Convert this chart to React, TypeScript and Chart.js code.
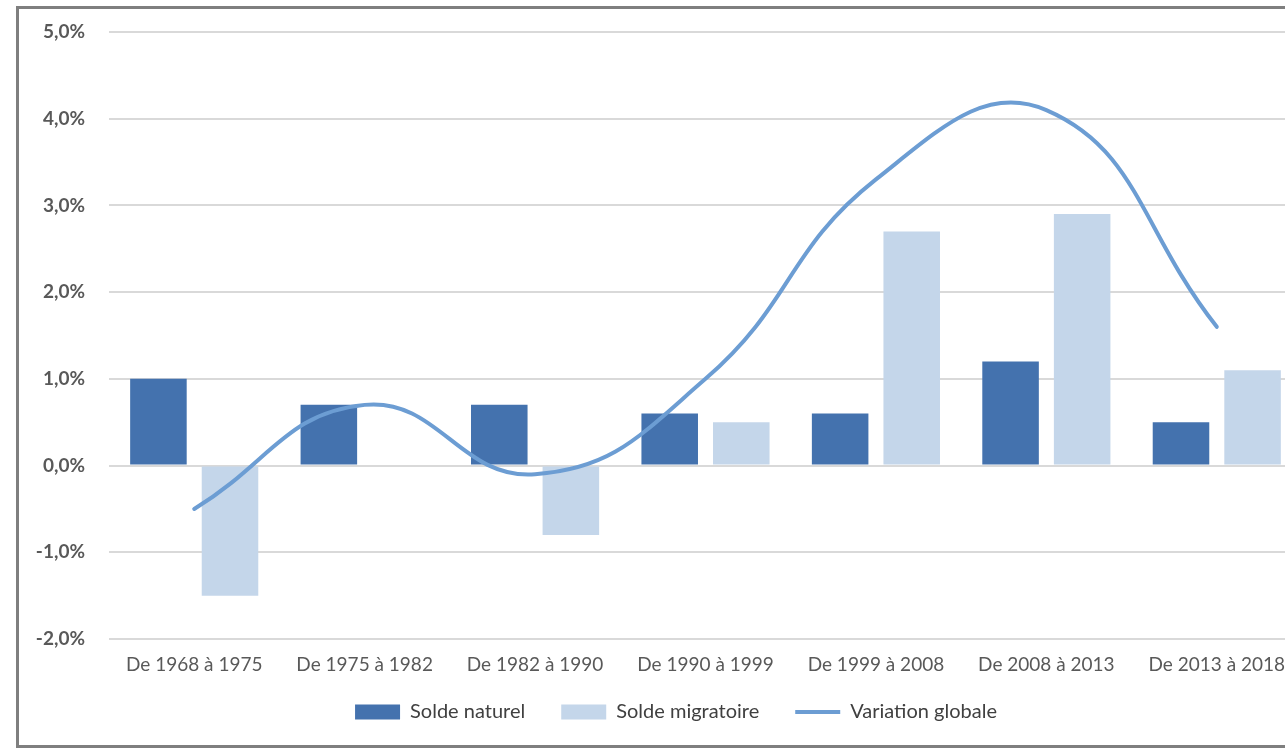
import React, { useEffect, useRef } from "react";
import { Chart, registerables } from "chart.js";

Chart.register(...registerables);

const categories = [
  "De 1968 à 1975",
  "De 1975 à 1982",
  "De 1982 à 1990",
  "De 1990 à 1999",
  "De 1999 à 2008",
  "De 2008 à 2013",
  "De 2013 à 2018",
];
const soldeNaturel = [1.0, 0.7, 0.7, 0.6, 0.6, 1.2, 0.5];
const soldeMigratoire = [-1.5, 0.0, -0.8, 0.5, 2.7, 2.9, 1.1];
const variationGlobale = [-0.5, 0.7, -0.1, 1.0, 3.3, 4.1, 1.6];
const seriesLabels = ["Solde naturel", "Solde migratoire", "Variation globale"];
const yMin = -2;
const yMax = 5;
const yStep = 1;

const COL_NAT = "#4472AE";
const COL_MIG = "#C4D6EA";
const COL_VAR = "#6C9DD3";
const FONT = "Lato, 'Open Sans', sans-serif";
const LEGEND_SHIFT_X = 25;
const LEGEND_SHIFT_Y = -13;

const legendShift = {
  id: "legendShift",
  afterLayout(chart: any) {
    const lg = chart.legend;
    if (lg) {
      lg.left += LEGEND_SHIFT_X;
      lg.right += LEGEND_SHIFT_X;
      lg.top += LEGEND_SHIFT_Y;
      lg.bottom += LEGEND_SHIFT_Y;
    }
  },
};

export default function App() {
  const ref = useRef<HTMLCanvasElement | null>(null);

  useEffect(() => {
    if (!ref.current) return;
    const chart = new Chart(ref.current, {
      type: "bar",
      plugins: [legendShift],
      data: {
        labels: categories,
        datasets: [
          {
            type: "bar",
            label: seriesLabels[0],
            data: soldeNaturel,
            backgroundColor: COL_NAT,
            borderWidth: 0,
            categoryPercentage: 0.84,
            barPercentage: 0.79,
            order: 2,
          },
          {
            type: "bar",
            label: seriesLabels[1],
            data: soldeMigratoire,
            backgroundColor: COL_MIG,
            borderWidth: 0,
            categoryPercentage: 0.84,
            barPercentage: 0.79,
            order: 2,
          },
          {
            type: "line",
            label: seriesLabels[2],
            data: variationGlobale,
            borderColor: COL_VAR,
            backgroundColor: COL_VAR,
            borderWidth: 4,
            borderCapStyle: "round",
            pointRadius: 0,
            tension: 0.45,
            fill: false,
            order: 1,
          },
        ],
      } as any,
      options: {
        animation: false,
        responsive: false,
        maintainAspectRatio: false,
        layout: { padding: { top: 32, bottom: 10, left: 0, right: 0 } },
        plugins: {
          tooltip: { enabled: false },
          legend: {
            position: "bottom",
            labels: {
              usePointStyle: true,
              pointStyleWidth: 45,
              boxHeight: 15,
              padding: 36,
              color: "#404040",
              font: { family: FONT, size: 20 },
              generateLabels: (c: any) =>
                c.data.datasets.map((ds: any, i: number) => ({
                  text: ds.label,
                  fillStyle: i === 2 ? "rgba(0,0,0,0)" : ds.backgroundColor,
                  strokeStyle: i === 2 ? COL_VAR : ds.backgroundColor,
                  lineWidth: i === 2 ? 4 : 0,
                  pointStyle: i === 2 ? "line" : "rect",
                  datasetIndex: i,
                  hidden: false,
                  fontColor: "#404040",
                })),
            },
          },
        },
        scales: {
          x: {
            grid: { display: false, drawTicks: false },
            border: { display: false },
            ticks: {
              color: "#595959",
              font: { family: FONT, size: 19 },
              padding: 14,
              maxRotation: 0,
              autoSkip: false,
            },
            afterFit: (s: any) => {
              s.height = 40;
            },
          },
          y: {
            min: yMin,
            max: yMax,
            border: { display: false },
            grid: { color: "#D9D9D9", lineWidth: 2, drawTicks: false },
            ticks: {
              stepSize: yStep,
              color: "#595959",
              padding: 24,
              font: { family: FONT, size: 19, weight: "bold" },
              callback: (v: any) => Number(v).toFixed(1).replace(".", ",") + "%",
            },
            afterFit: (s: any) => {
              s.width = 109;
              s.paddingTop = 0;
              s.paddingBottom = 0;
            },
          },
        },
      } as any,
    });
    return () => chart.destroy();
  }, []);

  return (
    <div
      style={{
        position: "fixed",
        left: 0,
        top: 0,
        width: 1285,
        height: 755,
        overflow: "hidden",
        background: "#fff",
      }}
    >
      <canvas
        ref={ref}
        width={1302}
        height={755}
        style={{ position: "absolute", left: 0, top: 0, width: 1302, height: 755 }}
      />
      <div style={{ position: "absolute", left: 16, top: 6, width: 3, height: 742, background: "#7F7F7F" }} />
      <div style={{ position: "absolute", left: 16, top: 6, width: 1285, height: 3, background: "#7F7F7F" }} />
      <div style={{ position: "absolute", left: 16, top: 745, width: 1285, height: 3, background: "#7F7F7F" }} />
    </div>
  );
}
